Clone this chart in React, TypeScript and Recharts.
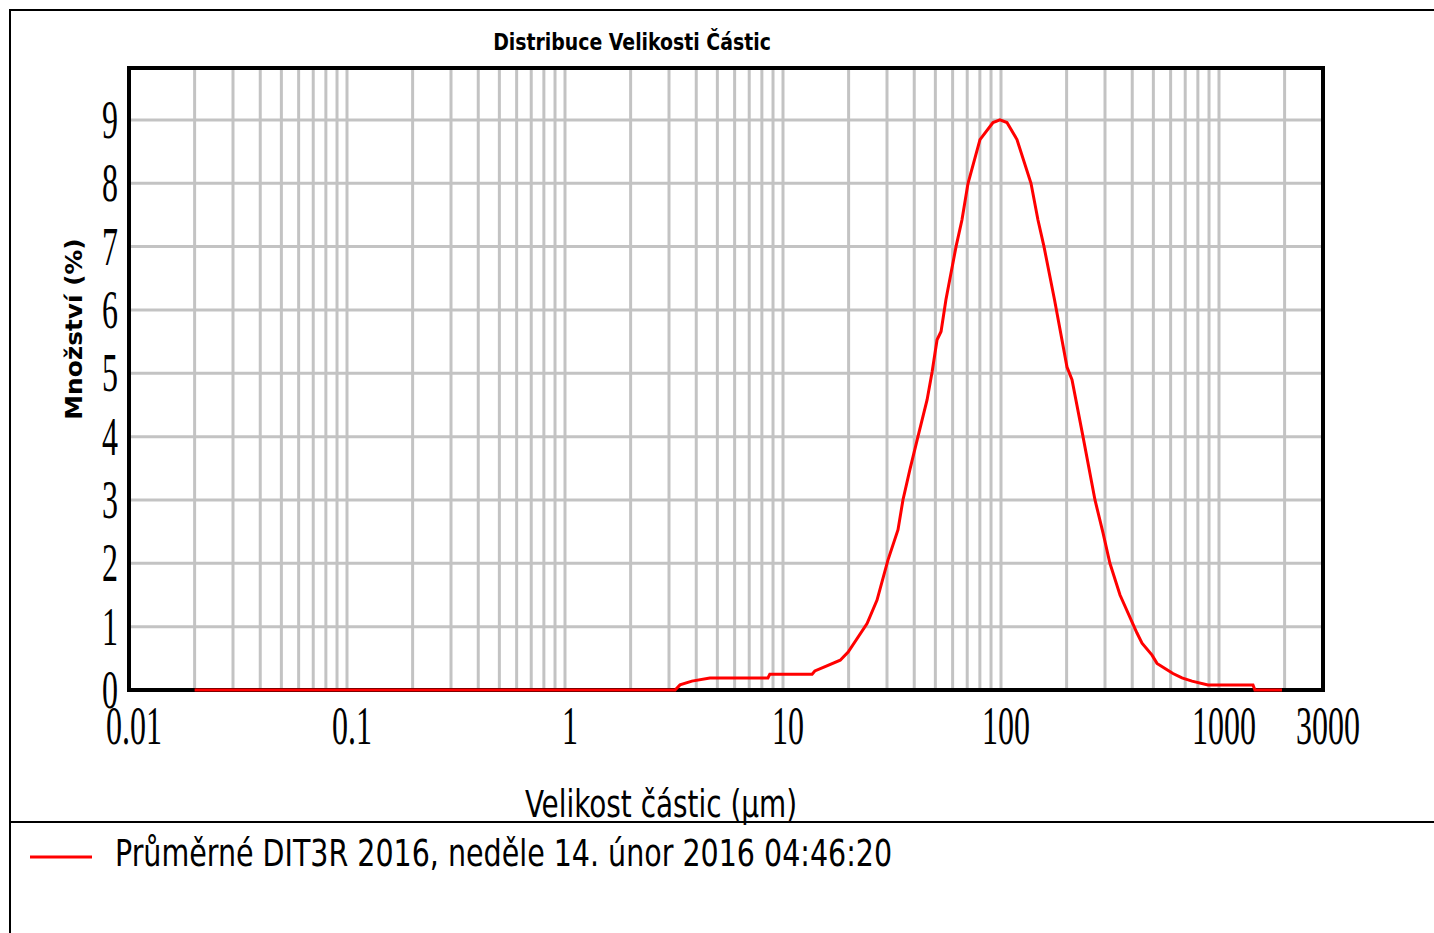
import React from 'react';
import { LineChart, Line, XAxis, YAxis, CartesianGrid, ReferenceArea, Label } from 'recharts';

// Particle size classes (µm) and volume percentages
const sizes = [
  0.02, 3.2, 3.37, 3.82, 4.62, 8.53, 8.7, 13.6, 14.0, 15.6, 18.3, 19.9, 24.3, 27.0,
  30.3, 33.7, 35.5, 38.2, 41.6, 45.8, 48.3, 50.9, 53.1, 55.9, 62.2, 66.2, 70.6, 80.1,
  91.9, 98.9, 106.5, 118.4, 137.3, 147.8, 157.5, 176.0, 200.8, 211.7, 237.8, 269.9,
  293.8, 316.0, 351.6, 420.6, 443.6, 493.0, 519.6, 565.5, 615.0, 676.5, 751.8, 890.0,
  1432, 1462, 1946,
];
const volumes = [
  0, 0, 0.08, 0.14, 0.19, 0.19, 0.25, 0.25, 0.3, 0.37, 0.47, 0.6, 1.05, 1.42,
  2.05, 2.53, 3.0, 3.48, 4.0, 4.58, 5.02, 5.53, 5.66, 6.16, 7.0, 7.42, 8.0, 8.69,
  8.96, 9.0, 8.96, 8.69, 8.0, 7.42, 7.0, 6.16, 5.1, 4.9, 4.0, 3.0,
  2.48, 2.0, 1.5, 0.9, 0.74, 0.55, 0.42, 0.34, 0.26, 0.19, 0.14, 0.08,
  0.08, 0, 0,
];
const xTicks = [0.01, 0.1, 1, 10, 100, 1000, 3000];
const xTickLabels = ['0.01', '0.1', '1', '10', '100', '1000', '3000'];
const yTicks = [0, 1, 2, 3, 4, 5, 6, 7, 8, 9];
const yGrid = [1, 2, 3, 4, 5, 6, 7, 8, 9];
const decades = [0.01, 0.1, 1, 10, 100, 1000];
const multipliers = [1, 2, 3, 4, 5, 6, 7, 8, 9];

const title = 'Distribuce Velikosti Částic';
const xTitle = 'Velikost částic (µm)';
const yTitle = 'Množství (%)';
const seriesName = 'Průměrné DIT3R 2016, neděle 14. únor 2016 04:46:20';

const data = sizes.map((s, i) => ({ size: s, vol: volumes[i] }));
const xGrid = decades
  .flatMap((d) => multipliers.map((m) => +(d * m).toPrecision(3)))
  .filter((v) => v > 0.01 && v < 3000);

const W = 1434;
const H = 933;
const PLOT_LEFT = 129;
const PLOT_RIGHT = 1323;
const PLOT_TOP = 68;
const PLOT_BOTTOM = 690;
const Y_MAX = 9.82;

const SANS = "'DejaVu Sans Condensed', 'DejaVu Sans', sans-serif";
const TICK_FONT = "'Liberation Serif', serif";

const XTick = (props: any) => {
  const { x, payload } = props;
  const i = xTicks.indexOf(payload.value);
  const label = i >= 0 ? xTickLabels[i] : String(payload.value);
  return (
    <text
      transform={`translate(${x + 5}, ${PLOT_BOTTOM + 54}) scale(1, 1.7)`}
      textAnchor="middle"
      fontFamily={TICK_FONT}
      fontSize={32}
      fill="#000"
    >
      {label}
    </text>
  );
};

const YTick = (props: any) => {
  const { y, payload } = props;
  return (
    <text
      transform={`translate(${PLOT_LEFT - 11}, ${y + 18}) scale(1, 1.7)`}
      textAnchor="end"
      fontFamily={TICK_FONT}
      fontSize={32}
      fill="#000"
    >
      {payload.value}
    </text>
  );
};

export default function App() {
  return (
    <div
      style={{
        position: 'absolute',
        left: 0,
        top: 0,
        width: W,
        height: H,
        overflow: 'hidden',
        background: '#fff',
      }}
    >
      {/* outer frame */}
      <div
        style={{
          position: 'absolute',
          left: 9,
          top: 9,
          width: W,
          height: H,
          borderTop: '2px solid #000',
          borderLeft: '2px solid #000',
        }}
      />
      <div
        style={{
          position: 'absolute',
          left: 9,
          top: 821,
          width: W,
          height: 0,
          borderTop: '2px solid #000',
        }}
      />
      <LineChart
        width={W}
        height={H}
        data={data}
        margin={{ top: PLOT_TOP, right: W - PLOT_RIGHT, bottom: 0, left: 0 }}
        style={{ position: 'absolute', left: 0, top: 0 }}
      >
        <CartesianGrid
          stroke="#c3c3c3"
          strokeWidth={3}
          verticalValues={xGrid}
          horizontalValues={yGrid}
        />
        <ReferenceArea
          x1={0.01}
          x2={3000}
          y1={0}
          y2={Y_MAX}
          fill="none"
          fillOpacity={0}
          stroke="#000"
          strokeWidth={4}
          ifOverflow="visible"
          zIndex={50}
          label={{
            content: () => (
              <text
                transform={`translate(632, 50) scale(1, 1.1)`}
                textAnchor="middle"
                fontFamily={SANS}
                fontWeight="bold"
                fontSize={21}
                fill="#000"
              >
                {title}
              </text>
            ),
          }}
        />
        <XAxis
          dataKey="size"
          type="number"
          scale="log"
          domain={[0.01, 3000]}
          ticks={xTicks}
          tick={<XTick />}
          tickLine={false}
          axisLine={false}
          height={H - PLOT_BOTTOM}
          interval={0}
        >
          <Label
            content={() => (
              <text
                transform={`translate(661, 817) scale(1, 1.2)`}
                textAnchor="middle"
                fontFamily={SANS}
                fontSize={31}
                fill="#000"
              >
                {xTitle}
              </text>
            )}
          />
        </XAxis>
        <YAxis
          type="number"
          domain={[0, Y_MAX]}
          ticks={yTicks}
          tick={<YTick />}
          tickLine={false}
          axisLine={false}
          width={PLOT_LEFT}
          interval={0}
        >
          <Label
            content={() => (
              <text
                transform={`translate(74, 329) rotate(-90) scale(1.2, 1)`}
                textAnchor="middle"
                dominantBaseline="central"
                fontFamily={SANS}
                fontWeight="bold"
                fontSize={23}
                fill="#000"
              >
                {yTitle}
              </text>
            )}
          />
        </YAxis>
        <Line
          type="linear"
          dataKey="vol"
          name={seriesName}
          stroke="#ff0000"
          strokeWidth={3}
          dot={false}
          activeDot={false}
          isAnimationActive={false}
          zIndex={1000}
        />
      </LineChart>
      {/* legend */}
      <svg
        width={W}
        height={100}
        style={{ position: 'absolute', left: 0, top: 823 }}
      >
        <line x1={30} y1={34} x2={92} y2={34} stroke="#ff0000" strokeWidth={3} />
        <text
          transform={`translate(115, 43) scale(1, 1.2)`}
          fontFamily={SANS}
          fontSize={31.7}
          fill="#000"
        >
          {seriesName}
        </text>
      </svg>
    </div>
  );
}
